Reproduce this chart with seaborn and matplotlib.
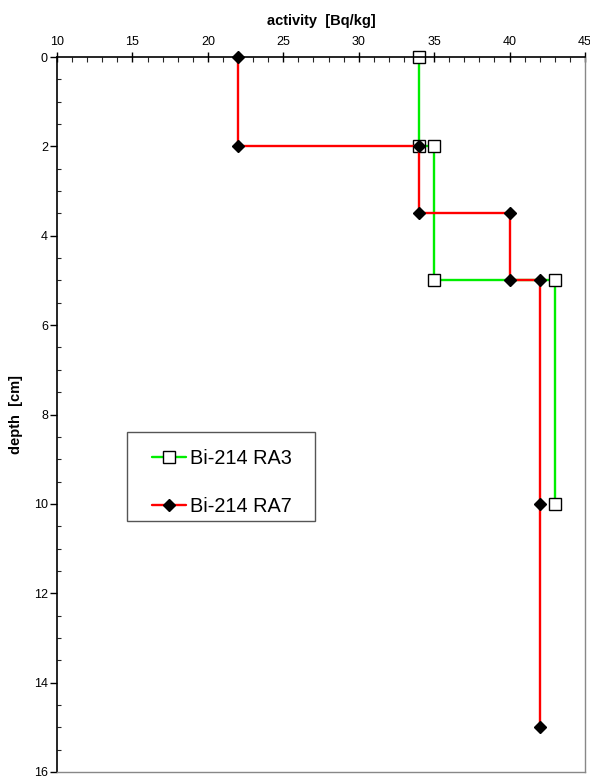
import matplotlib
matplotlib.use("Agg")
import matplotlib.pyplot as plt
from matplotlib.ticker import MultipleLocator
from matplotlib.patches import Rectangle
import seaborn as sns
import pandas as pd

# Step profiles: activity vs depth
ra3_depth = [0, 2, 2, 5, 5, 10]
ra3_activity = [34, 34, 35, 35, 43, 43]

ra7_depth = [0, 2, 2, 3.5, 3.5, 5, 5, 10, 15]
ra7_activity = [22, 22, 34, 34, 40, 40, 42, 42, 42]

series_labels = ["Bi-214 RA3", "Bi-214 RA7"]
x_ticks = [10, 15, 20, 25, 30, 35, 40, 45]
y_ticks = [0, 2, 4, 6, 8, 10, 12, 14, 16]

sns.set_style("white")
plt.rcParams["font.family"] = ["Liberation Sans", "DejaVu Sans"]
plt.rcParams["text.color"] = "black"
plt.rcParams["axes.labelcolor"] = "black"

fig = plt.figure(figsize=(5.9, 7.79), dpi=100)
ax = fig.add_axes([57 / 590, 1 - 772 / 779, 528 / 590, 715 / 779])

df3 = pd.DataFrame({"activity": ra3_activity, "depth": ra3_depth})
df7 = pd.DataFrame({"activity": ra7_activity, "depth": ra7_depth})

sns.lineplot(data=df3, x="activity", y="depth", sort=False, estimator=None,
             color="#00ee00", lw=1.7, marker="s", markersize=8.5,
             markerfacecolor="white", markeredgecolor="black", markeredgewidth=1.0,
             label=series_labels[0], clip_on=False, ax=ax)
sns.lineplot(data=df7, x="activity", y="depth", sort=False, estimator=None,
             color="#ff0000", lw=1.7, marker="D", markersize=6.3,
             markerfacecolor="black", markeredgecolor="black", markeredgewidth=1.0,
             label=series_labels[1], clip_on=False, ax=ax)

ax.set_xlim(10, 45)
ax.set_ylim(16, 0)
ax.xaxis.tick_top()
ax.xaxis.set_label_position("top")
ax.set_xticks(x_ticks)
ax.set_yticks(y_ticks)
ax.xaxis.set_minor_locator(MultipleLocator(1))
ax.yaxis.set_minor_locator(MultipleLocator(0.5))

ax.tick_params(axis="x", which="major", direction="inout", length=7, width=1,
               labelsize=9, pad=3, colors="black")
ax.tick_params(axis="x", which="minor", direction="in", length=3.5, width=0.8)
ax.tick_params(axis="y", which="major", direction="out", length=5, width=1,
               labelsize=9, pad=1.5, colors="black")
ax.tick_params(axis="y", which="minor", direction="in", length=3, width=0.8)
ax.tick_params(top=True, bottom=False, left=True, right=False, which="both")

for side in ["top", "left"]:
    ax.spines[side].set_color("black")
    ax.spines[side].set_linewidth(1.2)
for side in ["bottom", "right"]:
    ax.spines[side].set_color("#888888")
    ax.spines[side].set_linewidth(1.0)

ax.set_xlabel("activity  [Bq/kg]", fontsize=10.5, fontweight="bold")
ax.set_ylabel("depth  [cm]", fontsize=10.5, fontweight="bold")
ax.xaxis.set_label_coords(0.5, (772 - 25) / 715)
ax.yaxis.set_label_coords((23 - 57) / 528, 0.5)

# Legend box drawn as a separate frame, entries placed inside it
ax.add_patch(Rectangle((70 / 528, (772 - 521) / 715), 188 / 528, 89 / 715,
                       transform=ax.transAxes, facecolor="white",
                       edgecolor="#555555", linewidth=1.0, zorder=4))
leg = ax.legend(loc="upper left", bbox_to_anchor=(95 / 528, (772 - 449) / 715),
                fontsize=14.3, frameon=False, handlelength=1.7, handletextpad=0.2,
                borderpad=0, labelspacing=1.45, borderaxespad=0)
leg.set_zorder(5)
for t in leg.get_texts():
    t.set_color("black")

fig.savefig("out.png", dpi=100)
